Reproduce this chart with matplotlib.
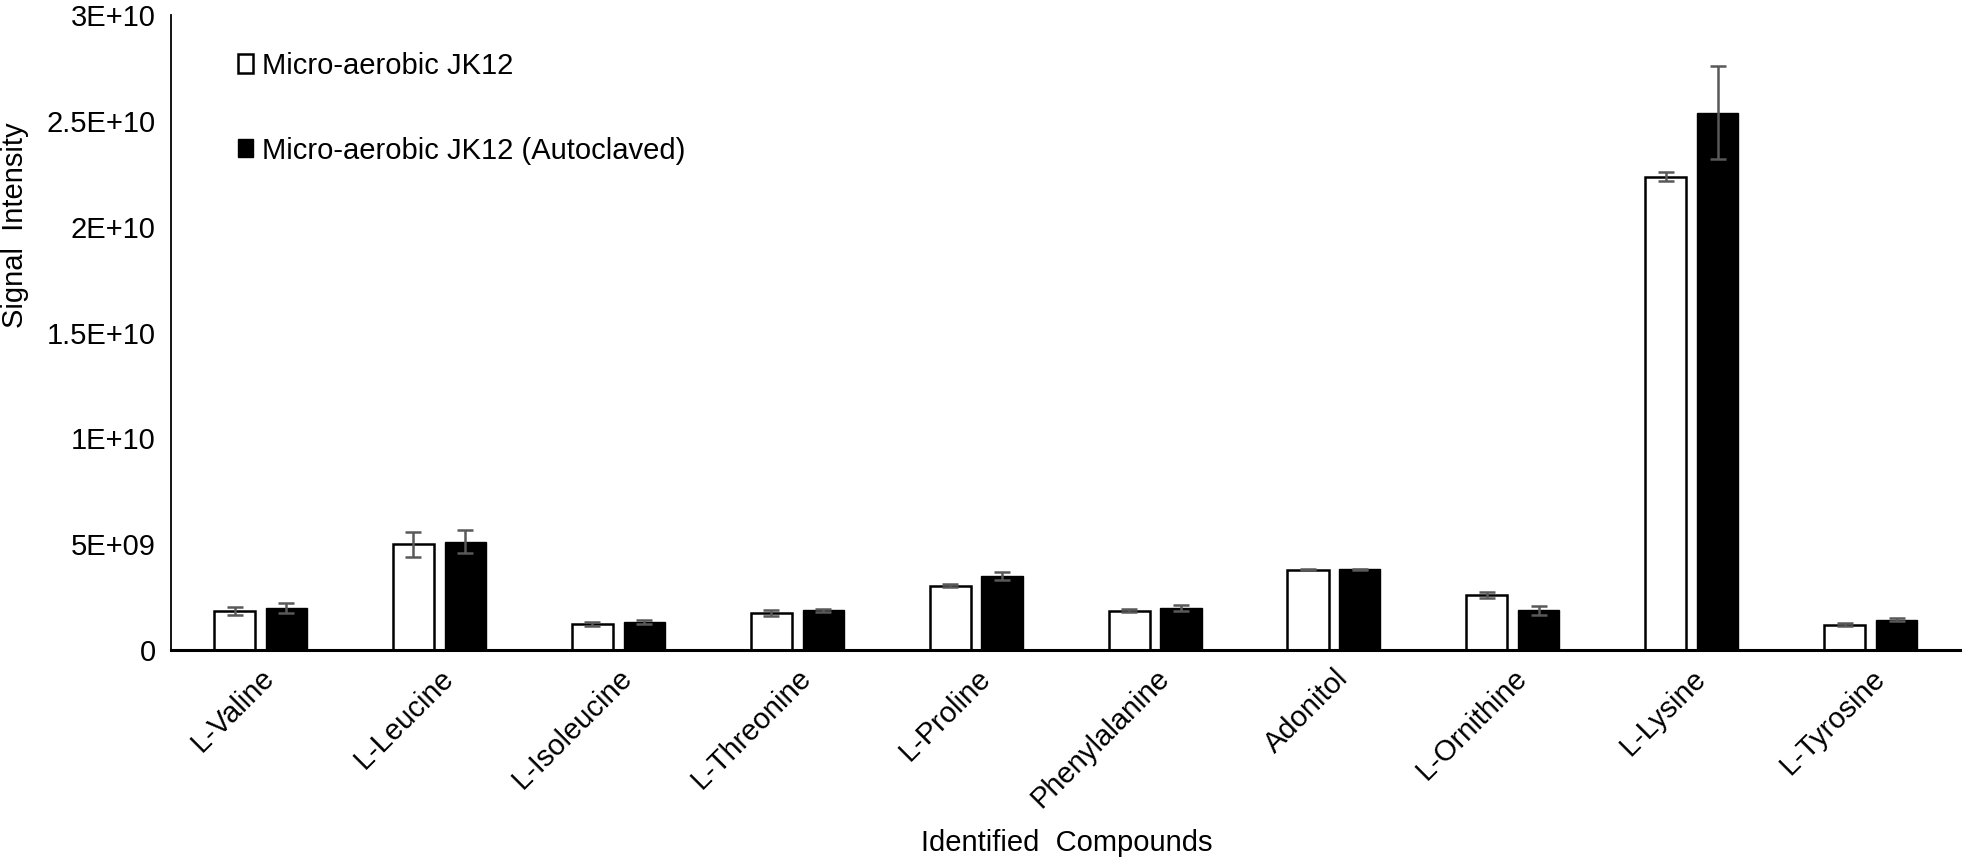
import matplotlib.pyplot as plt
import numpy as np

plt.rcParams['font.family'] = ['Liberation Sans', 'DejaVu Sans']

compounds = ["L-Valine", "L-Leucine", "L-Isoleucine", "L-Threonine", "L-Proline",
             "Phenylalanine", "Adonitol", "L-Ornithine", "L-Lysine", "L-Tyrosine"]

# signal intensity
micro = [1.84e9, 4.99e9, 1.21e9, 1.76e9, 3.04e9, 1.86e9, 3.79e9, 2.61e9, 22.37e9, 1.20e9]
micro_err = [0.19e9, 0.60e9, 0.09e9, 0.14e9, 0.08e9, 0.07e9, 0.03e9, 0.15e9, 0.23e9, 0.08e9]
autoclaved = [1.98e9, 5.12e9, 1.34e9, 1.87e9, 3.50e9, 1.98e9, 3.81e9, 1.87e9, 25.39e9, 1.43e9]
autoclaved_err = [0.24e9, 0.55e9, 0.09e9, 0.09e9, 0.20e9, 0.15e9, 0.03e9, 0.21e9, 2.20e9, 0.08e9]

y_ticks = [0, 5e9, 1e10, 1.5e10, 2e10, 2.5e10, 3e10]
y_labels = ["0", "5E+09", "1E+10", "1.5E+10", "2E+10", "2.5E+10", "3E+10"]

fs = 21

fig = plt.figure(figsize=(19.64, 8.63), dpi=100)
ax = fig.add_axes([0.0871, 0.2468, 0.9109, 0.7358])

x = np.arange(len(compounds))
w = 0.23
off = 0.145
err_kw = dict(ecolor="#595959", elinewidth=1.8, capsize=6, capthick=1.8)

ax.bar(x - off, micro, w, yerr=micro_err, color="white", edgecolor="black",
       linewidth=1.8, error_kw=err_kw, label="Micro-aerobic JK12")
ax.bar(x + off, autoclaved, w, yerr=autoclaved_err, color="black", edgecolor="black",
       linewidth=1.0, error_kw=err_kw, label="Micro-aerobic JK12 (Autoclaved)")

ax.set_xlim(-0.5, len(compounds) - 0.5)
ax.set_ylim(0, 3e10)
ax.set_yticks(y_ticks)
ax.set_yticklabels(y_labels, fontsize=fs)
ax.set_xticks(x)
ax.set_xticklabels(compounds, rotation=45, ha="right", rotation_mode="anchor",
                   fontsize=fs)
ax.tick_params(axis="y", length=0, pad=11)
ax.tick_params(axis="x", length=0, pad=10)

for s in ["top", "right"]:
    ax.spines[s].set_visible(False)
ax.spines["left"].set_linewidth(1.3)
ax.spines["bottom"].set_linewidth(2.2)

fig.text(15 / 1964, 1 - 225 / 863, "Signal  Intensity", fontsize=fs,
         rotation=90, ha="center", va="center")
fig.text(1067 / 1964, 1 - 843 / 863, "Identified  Compounds", fontsize=fs,
         ha="center", va="center")

ax.legend(loc="upper left", bbox_to_anchor=(0.0375, 0.942), frameon=False,
          borderpad=0, borderaxespad=0,
          fontsize=fs, handlelength=0.52, handleheight=0.58, handletextpad=0.3,
          labelspacing=1.95)

fig.savefig("out.png", dpi=100)
